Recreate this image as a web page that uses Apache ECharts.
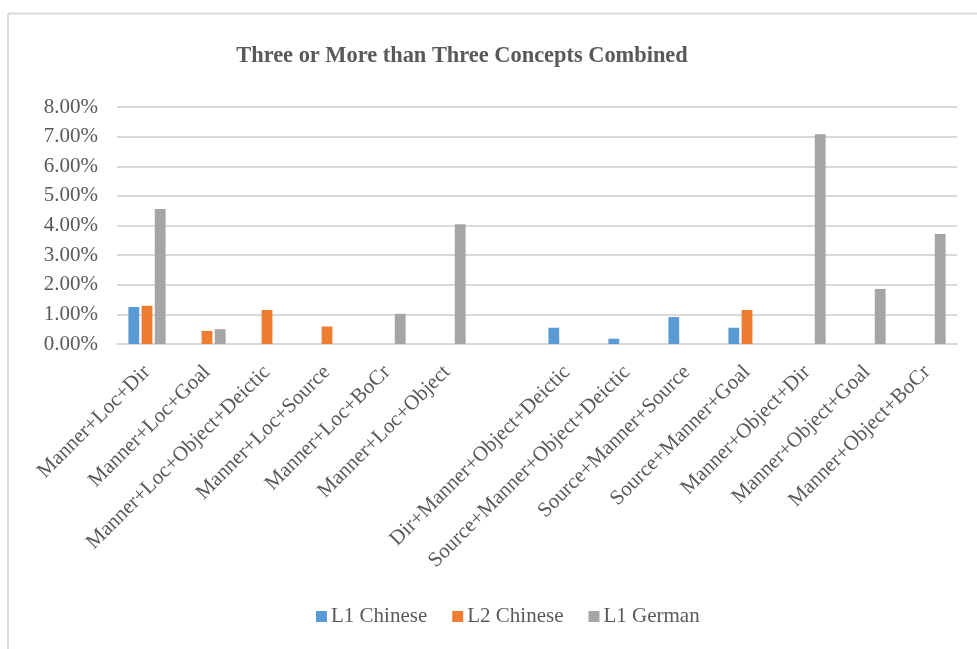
<!DOCTYPE html>
<html>
<head>
<meta charset="utf-8">
<script src="https://cdn.jsdelivr.net/npm/echarts@6/dist/echarts.min.js"></script>
<style>
  html, body { margin: 0; padding: 0; background: #fff; }
  #chart { width: 977px; height: 649px; }
</style>
</head>
<body>
<div id="chart"></div>
<script>
// Combination categories (one blank slot separates the two groups)
const categories = [
  'Manner+Loc+Dir',
  'Manner+Loc+Goal',
  'Manner+Loc+Object+Deictic',
  'Manner+Loc+Source',
  'Manner+Loc+BoCr',
  'Manner+Loc+Object',
  '',
  'Dir+Manner+Object+Deictic',
  'Source+Manner+Object+Deictic',
  'Source+Manner+Source',
  'Source+Manner+Goal',
  'Manner+Object+Dir',
  'Manner+Object+Goal',
  'Manner+Object+BoCr'
];

// Percentages per learner group
const l1Chinese = [1.25, 0, 0, 0, 0, 0, 0, 0.55, 0.18, 0.91, 0.55, 0, 0, 0];
const l2Chinese = [1.29, 0.44, 1.15, 0.59, 0, 0, 0, 0, 0, 0, 1.15, 0, 0, 0];
const l1German  = [4.56, 0.50, 0, 0, 1.02, 4.04, 0, 0, 0, 0, 0, 7.08, 1.86, 3.71];

const yTicks = { min: 0, max: 8, interval: 1 };

const serif = 'Liberation Serif, Times New Roman, serif';
const textGrey = '#595959';
const lineGrey = '#d9d9d9';

const chart = echarts.init(document.getElementById('chart'), null, { renderer: 'canvas' });

const barSeries = (name, data, color) => ({
  name: name,
  type: 'bar',
  data: data,
  barGap: '22%',
  barCategoryGap: '38%',
  itemStyle: { color: color },
  emphasis: { disabled: true }
});

chart.setOption({
  animation: false,
  backgroundColor: '#fff',
  title: {
    text: 'Three or More than Three Concepts Combined',
    left: 457,
    top: 40,
    textAlign: 'center',
    textStyle: { fontFamily: serif, fontSize: 22.4, fontWeight: 'bold', color: textGrey }
  },
  legend: {
    left: 311,
    top: 601,
    icon: 'rect',
    itemWidth: 11,
    itemHeight: 11,
    itemGap: 25,
    textStyle: { fontFamily: serif, fontSize: 21, color: textGrey, padding: [0, 0, 0, -1] },
    data: ['L1 Chinese', 'L2 Chinese', 'L1 German']
  },
  grid: { left: 117, right: 20, top: 107, bottom: 305, containLabel: false },
  xAxis: {
    type: 'category',
    data: categories,
    axisLine: { lineStyle: { color: lineGrey, width: 2 } },
    axisTick: { show: false },
    axisLabel: {
      interval: 0,
      rotate: 45,
      margin: 25,
      padding: [21, 0, 0, 0],
      fontFamily: serif,
      fontSize: 21,
      color: textGrey
    }
  },
  yAxis: {
    type: 'value',
    min: yTicks.min,
    max: yTicks.max,
    interval: yTicks.interval,
    axisLine: { show: false },
    axisTick: { show: false },
    splitLine: { lineStyle: { color: lineGrey, width: 2 } },
    axisLabel: {
      margin: 19,
      fontFamily: serif,
      fontSize: 21,
      color: textGrey,
      formatter: v => v.toFixed(2) + '%'
    }
  },
  graphic: [
    { type: 'line', shape: { x1: 8, y1: 13.5, x2: 977, y2: 13.5 }, style: { stroke: lineGrey, lineWidth: 2 }, silent: true },
    { type: 'line', shape: { x1: 8, y1: 13.5, x2: 8, y2: 649 }, style: { stroke: lineGrey, lineWidth: 2 }, silent: true }
  ],
  series: [
    barSeries('L1 Chinese', l1Chinese, '#5b9bd5'),
    barSeries('L2 Chinese', l2Chinese, '#ed7d31'),
    barSeries('L1 German', l1German, '#a5a5a5')
  ]
});
</script>
</body>
</html>
